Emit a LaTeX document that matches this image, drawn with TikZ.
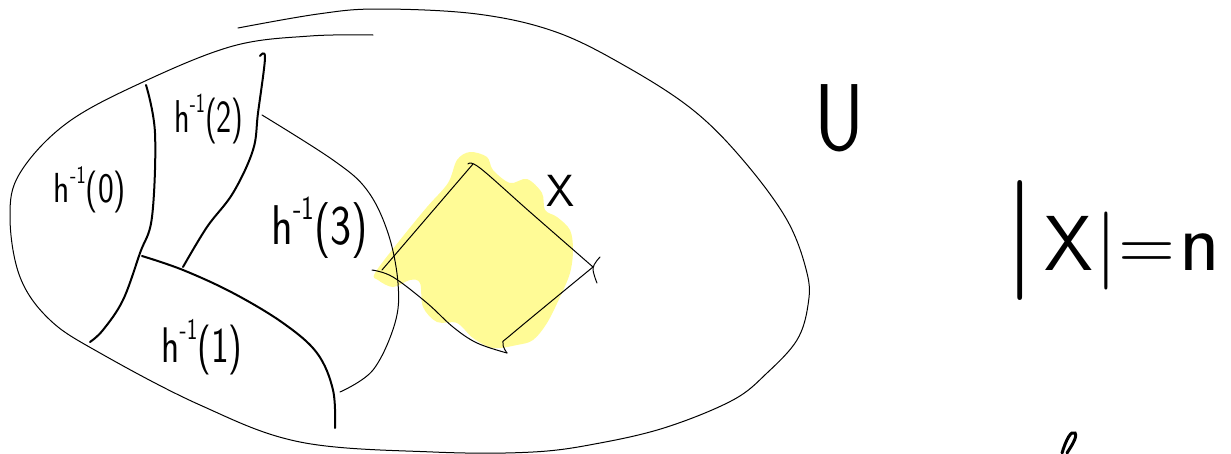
\documentclass[tikz,border=0pt]{standalone}
\usepackage{fontspec}
\definecolor{hilite}{RGB}{255,251,150}
\newcommand\hinvlab[1]{\textsf{h}\raisebox{0.45em}{\fontsize{0.6em}{0.6em}\selectfont\textsf{-1}}\textsf{(#1)}}
\tikzset{
  thinline/.style={line width=1pt, line cap=round, line join=round},
  thickline/.style={line width=2pt, line cap=round, line join=round},
  lab/.style={inner sep=0pt, font=\sffamily},
}
\begin{document}
\begin{tikzpicture}[x=1pt,y=-1pt]
\useasboundingbox (0,0) rectangle (1231,453);
% yellow highlight
\fill[hilite] plot[smooth cycle, tension=0.55] coordinates {
 (375,273) (400,240) (427,207) (448,183) (457,160) (470,152) (487,157) (493,170)
 (510,183) (527,179) (542,193) (545,210) (557,217) (570,230) (573,250) (570,273)
 (560,297) (547,323) (533,340) (517,345) (493,348) (473,338) (457,323) (437,322)
 (423,307) (420,283) (410,280) (393,287) (378,280)};
% outer region U
\draw[thinline] plot[smooth, tension=0.6] coordinates {
 (373,35) (310,36) (233,46) (143,82) (67,123) (20,173) (10,217) (20,277) (50,320)
 (100,353) (200,405) (300,442) (433,452) (533,452) (600,443) (667,427) (733,400)
 (767,373) (797,340) (808,305) (807,273) (787,220) (743,160) (693,110) (627,67)
 (556,32) (477,14) (378,9) (318,14) (238,28)};
% dividers
\draw[thickline] plot[smooth, tension=0.6] coordinates {
 (146,85) (155,133) (152,217) (140,253) (123,300) (103,330) (90,342)};
\draw[thickline] plot[smooth, tension=0.6] coordinates {
 (260,56) (265,58) (258,113) (253,150) (233,193) (207,227) (183,267)};
\draw[thickline] plot[smooth, tension=0.6] coordinates {
 (142,256) (183,270) (233,293) (283,323) (317,353) (333,390) (335,428)};
\draw[thinline] plot[smooth, tension=0.6] coordinates {
 (262,115) (333,160) (367,190) (388,233) (398,283) (395,323) (373,370) (340,392)};
% the square X
\draw[thinline] (382,270) -- (473,164);
\draw[thinline] plot[smooth, tension=0.6] coordinates {(468,164) (480,168) (530,212) (593,267)};
\draw[thinline] plot[smooth, tension=0.6] coordinates {(600,257) (593,268) (597,283)};
\draw[thinline] plot[smooth, tension=0.6] coordinates {(593,267) (513,333) (503,343) (507,353)};
\draw[thinline] plot[smooth, tension=0.6] coordinates {(372,270) (393,277) (427,303) (453,327) (477,343) (507,353)};
% labels
\node[lab] (l0) at (90,190) {\fontsize{42}{42}\selectfont\scalebox{0.8}[1]{\hinvlab{0}}};
\node[lab] (l2) at (209,119) {\fontsize{46}{46}\selectfont\scalebox{0.7}[1]{\hinvlab{2}}};
\node[lab] (l3) at (320,228) {\fontsize{56}{56}\selectfont\scalebox{0.8}[1]{\hinvlab{3}}};
\node[lab] (l1) at (202,347) {\fontsize{50}{50}\selectfont\scalebox{0.75}[1]{\hinvlab{1}}};
\node[lab] (lx) at (561,191) {\fontsize{45}{45}\selectfont X};
\node[lab] (lu) at (840,118) {\fontsize{95}{95}\selectfont\scalebox{0.82}[1]{U}};
\node[lab, anchor=base west] (card) at (1003,270) {{\fontsize{120}{120}\selectfont|}\hspace{8pt}\fontsize{78}{78}\selectfont X\hspace{2pt}|\hspace{2pt}=\hspace{3pt}{\fontsize{84}{84}\selectfont n}};
% cut-off stroke at the bottom
\draw[line width=3pt, line cap=round] (1062,453) .. controls (1066,440) and (1071,430) .. (1075,433) .. controls (1078,437) and (1070,448) .. (1067,453);
\end{tikzpicture}
\end{document}
